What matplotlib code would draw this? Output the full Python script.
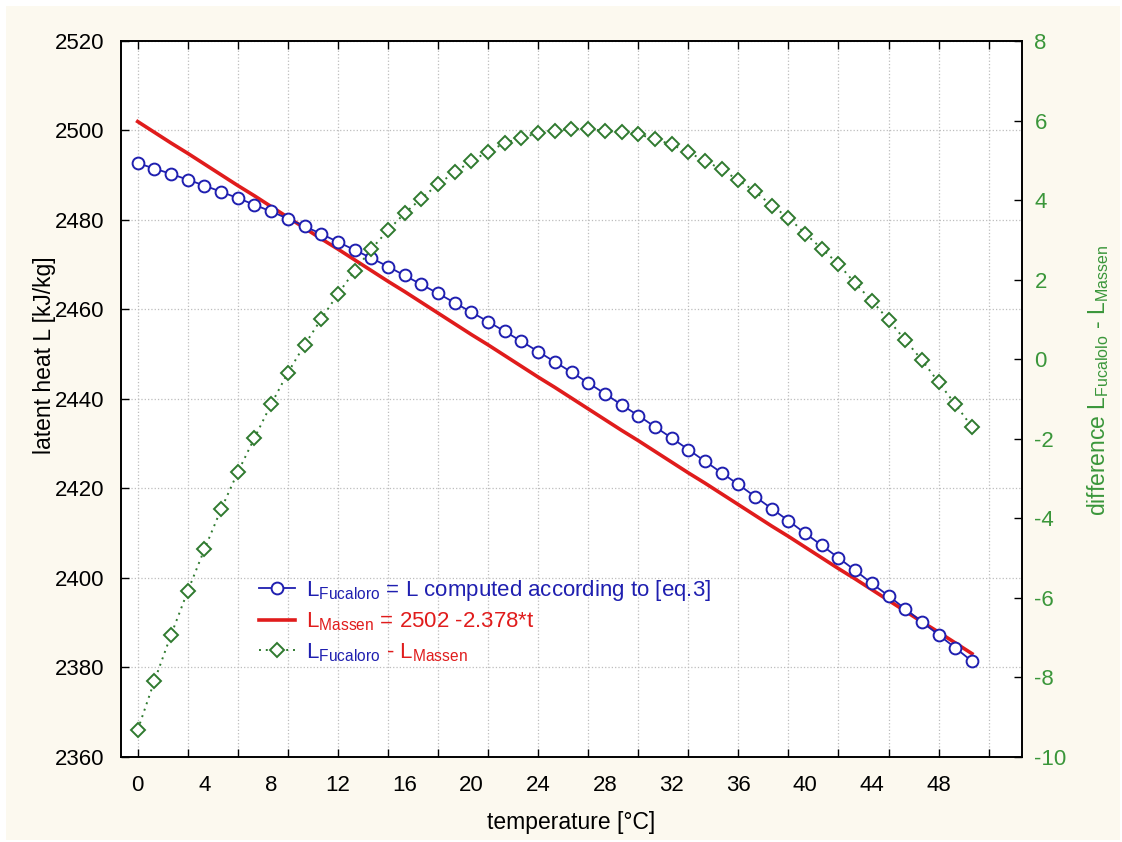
import matplotlib
matplotlib.use("Agg")
import matplotlib.pyplot as plt
from matplotlib.patches import Rectangle
import matplotlib.transforms as mtransforms

plt.rcParams['font.family'] = ['Liberation Sans', 'DejaVu Sans']
plt.rcParams['mathtext.fontset'] = 'custom'
plt.rcParams['mathtext.rm'] = 'Liberation Sans'
plt.rcParams['axes.unicode_minus'] = False

# data
temps = list(range(0, 51))
l_massen = [2502.0, 2499.6, 2497.2, 2494.9, 2492.5, 2490.1, 2487.7, 2485.4, 2483.0, 2480.6,
            2478.2, 2475.8, 2473.5, 2471.1, 2468.7, 2466.3, 2464.0, 2461.6, 2459.2, 2456.8,
            2454.4, 2452.1, 2449.7, 2447.3, 2444.9, 2442.6, 2440.2, 2437.8, 2435.4, 2433.0,
            2430.7, 2428.3, 2425.9, 2423.5, 2421.2, 2418.8, 2416.4, 2414.0, 2411.6, 2409.3,
            2406.9, 2404.5, 2402.1, 2399.8, 2397.4, 2395.0, 2392.6, 2390.2, 2387.9, 2385.5,
            2383.1]
l_fucaloro = [2492.7, 2491.5, 2490.3, 2489.0, 2487.7, 2486.3, 2484.9, 2483.4, 2481.9, 2480.3,
              2478.6, 2476.9, 2475.1, 2473.3, 2471.5, 2469.6, 2467.6, 2465.6, 2463.6, 2461.5,
              2459.4, 2457.3, 2455.1, 2452.9, 2450.6, 2448.3, 2446.0, 2443.6, 2441.2, 2438.7,
              2436.3, 2433.8, 2431.3, 2428.7, 2426.1, 2423.5, 2420.9, 2418.2, 2415.5, 2412.8,
              2410.0, 2407.3, 2404.5, 2401.7, 2398.8, 2396.0, 2393.1, 2390.2, 2387.3, 2384.4,
              2381.4]
difference = [-9.32, -8.09, -6.93, -5.83, -4.78, -3.77, -2.84, -1.98, -1.13, -0.34,
              0.36, 1.01, 1.64, 2.22, 2.77, 3.24, 3.67, 4.04, 4.40, 4.70,
              4.98, 5.22, 5.43, 5.57, 5.68, 5.74, 5.79, 5.79, 5.74, 5.70,
              5.66, 5.53, 5.40, 5.20, 4.99, 4.77, 4.50, 4.22, 3.86, 3.56,
              3.16, 2.78, 2.39, 1.91, 1.47, 0.99, 0.48, -0.02, -0.58, -1.13,
              -1.70]

x_label_ticks = list(range(0, 49, 4))
x_grid_ticks = list(range(0, 52, 3))
left_ticks = list(range(2360, 2521, 20))
right_ticks = list(range(-10, 9, 2))

blue = '#1f1fb0'
red = '#e01c1c'
green = '#2f7a2f'
green_txt = '#3a963a'
cream = '#fcf9ef'

W, H = 1122, 842
fig = plt.figure(figsize=(W / 100, H / 100), dpi=100, facecolor='white')
fig.patches.append(Rectangle((6 / W, 2 / H), 1114 / W, 834 / H, transform=fig.transFigure,
                             facecolor=cream, edgecolor='none', zorder=-10))

ax = fig.add_axes([121 / W, 1 - 757 / H, 901 / W, 716 / H])
ax.set_facecolor('white')
ax2 = ax.twinx()

h1, = ax.plot(temps, l_fucaloro, color=blue, lw=1.3, marker='o', ms=8.5, mfc='white',
              mec=blue, mew=1.4, zorder=3)
h2, = ax.plot(temps, l_massen, color=red, lw=2.6, zorder=2)
h3, = ax2.plot(temps, difference, color=green, lw=1.4, ls=(0, (1, 2.5)), marker='D', ms=7.5,
               mfc='white', mec=green, mew=1.4, zorder=3)

ax.set_xlim(-1, 53)
ax.set_ylim(2360, 2520)
ax2.set_ylim(-10, 8)

# labels every 4 degrees, tick marks and grid every 3
ax.xaxis.remove_overlapping_locs = False
ax.set_xticks(x_label_ticks)
ax.set_xticklabels([str(v) for v in x_label_ticks])
ax.set_xticks(x_grid_ticks, minor=True)
ax.tick_params(axis='x', which='major', length=0, labelsize=16, pad=13)
ax.tick_params(axis='x', which='minor', direction='in', length=6, width=1, top=True)
ax.set_yticks(left_ticks)
ax.tick_params(axis='y', which='major', direction='in', length=6, width=1, labelsize=16, pad=12)
ax2.set_yticks(right_ticks)
ax2.tick_params(axis='y', direction='in', length=6, width=1, labelsize=16, pad=9,
                labelcolor=green_txt)

ax.grid(True, which='minor', axis='x', color='#bdbdbd', ls=':', lw=0.9)
ax.grid(True, which='major', axis='y', color='#bdbdbd', ls=':', lw=0.9)

for a in (ax, ax2):
    for s in a.spines.values():
        s.set_linewidth(1.2)
        s.set_color('black')

ax.set_xlabel('temperature [°C]', fontsize=16.5, va='center')
ax.xaxis.set_label_coords(0.5, (757 - 822) / 716)
ax.set_ylabel('latent heat L [kJ/kg]', fontsize=16.5, va='center')
ax.yaxis.set_label_coords((45 - 121) / 901, (757 - 355) / 716)
ax2.set_ylabel(r'difference $\mathregular{L_{Fucalolo}}$ - $\mathregular{L_{Massen}}$',
               fontsize=16.5, color=green_txt, va='center', rotation=90)
ax2.yaxis.set_label_coords((1098 - 121) / 901, (757 - 380) / 716)

labels = [r'$\mathregular{L_{Fucaloro}}$ = L computed according to [eq.3]',
          r'$\mathregular{L_{Massen}}$ = 2502 -2.378*t',
          r'$\mathregular{L_{Fucaloro}}$']
leg = ax2.legend([h1, h2, h3], labels, loc='upper left',
                 bbox_to_anchor=(259 / W, 1 - 578 / H), bbox_transform=fig.transFigure,
                 frameon=False, fontsize=16, handlelength=1.6, handletextpad=0.5,
                 labelspacing=0.35, borderpad=0, borderaxespad=0)
texts = leg.get_texts()
texts[0].set_color(blue)
texts[1].set_color(red)
texts[2].set_color(blue)

# second half of the third legend entry is red
fig.canvas.draw()
t3 = texts[2]
bb = t3.get_window_extent()
xy = t3.get_transform().transform(t3.get_position())
fig.text(bb.x1, xy[1], r' - $\mathregular{L_{Massen}}$', color=red, fontsize=16,
         va='baseline', ha='left', transform=mtransforms.IdentityTransform())

fig.savefig('out.png', dpi=100, facecolor=fig.get_facecolor())
